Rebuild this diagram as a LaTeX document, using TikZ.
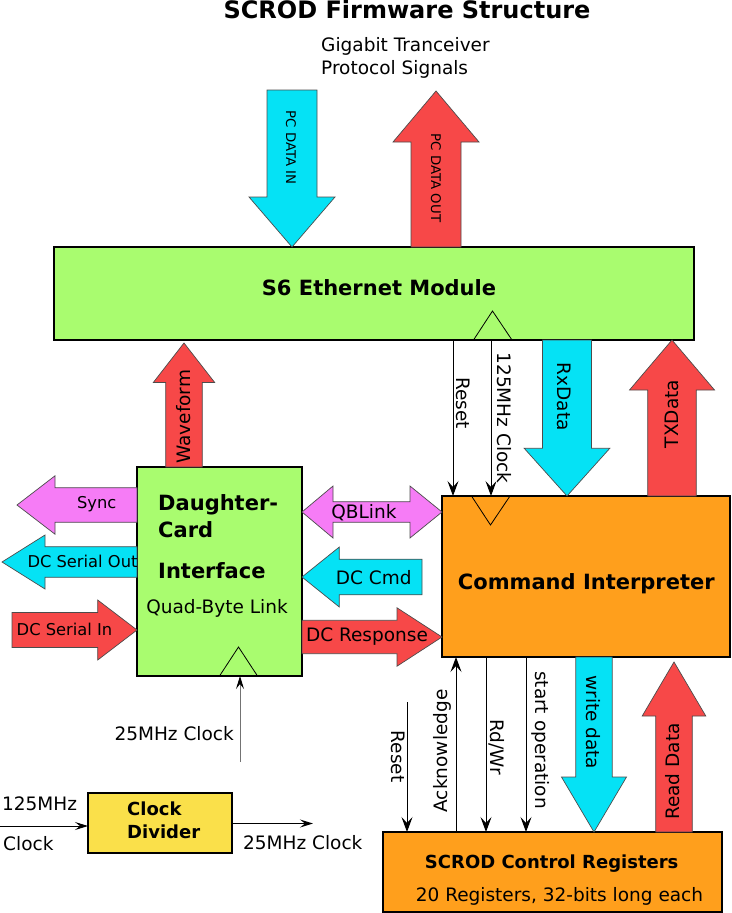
\documentclass[tikz,border=0pt]{standalone}
\usepackage{fontspec}
\setmainfont{DejaVu Sans}
\usetikzlibrary{calc,arrows.meta}

\definecolor{modgreen}{HTML}{A9FC6F}
\definecolor{cmdorange}{HTML}{FF9F1C}
\definecolor{datacyan}{HTML}{05E2F5}
\definecolor{datared}{HTML}{F74848}
\definecolor{linkpink}{HTML}{F67CF6}
\definecolor{divyellow}{HTML}{FAE04A}

% fat arrow: style, tail, tip, shaft half width, head half width, head length
\newcommand{\fatarrow}[6]{%
  \coordinate (fa-neck) at ($(#3)!#6!(#2)$);
  \draw[#1] ($(#2)!#4!90:(#3)$) -- ($(fa-neck)!#4!90:(#3)$) -- ($(fa-neck)!#5!90:(#3)$) -- (#3)
    -- ($(fa-neck)!#5!-90:(#3)$) -- ($(fa-neck)!#4!-90:(#3)$) -- ($(#2)!#4!-90:(#3)$) -- cycle;}

\begin{document}
\begin{tikzpicture}[x=1pt, y=-1pt,
    box/.style={draw=black, line width=1.3pt, inner sep=0, outer sep=0},
    fat/.style={draw=black!70, line width=0.7pt, line join=miter},
    clkmark/.style={draw=black, line width=0.8pt},
    txt/.style={inner sep=0, font=\fontsize{18.5}{21}\selectfont},
    smalltxt/.style={inner sep=0, font=\fontsize{16.3}{19}\selectfont},
    tinytxt/.style={inner sep=0, font=\fontsize{13.3}{15}\selectfont},
    boldtxt/.style={inner sep=0, font=\fontsize{21}{24}\selectfont\bfseries},
    regtxt/.style={inner sep=0, font=\fontsize{18}{21}\selectfont\bfseries},
    sig/.style={-{Stealth[length=15pt,width=11pt,inset=6pt]}, line width=1pt},
    clksig/.style={-{Stealth[length=13pt,width=8pt,inset=5pt,color=black]}, line width=1pt}
]
    \useasboundingbox (0,0) rectangle (731,913);

    % Blocks
    \node[box, fill=modgreen, minimum width=640pt, minimum height=93pt] (eth) at (374,293.5) {};
    \node[box, fill=modgreen, minimum width=165pt, minimum height=209pt] (dci) at (219.5,571.5) {};
    \node[box, fill=cmdorange, minimum width=288pt, minimum height=161pt] (cmd) at (586,576.5) {};
    \node[box, fill=cmdorange, minimum width=339pt, minimum height=80pt] (regs) at (552.5,872) {};
    \node[box, fill=divyellow, minimum width=144pt, minimum height=60pt] (div) at (160,823) {};

    % Clock inputs
    \draw[clkmark] (473.5,340) -- (492.5,311) -- (512,340);
    \draw[clkmark] (219.5,676) -- (238.5,647) -- (257.5,676);
    \draw[clkmark] (471.5,496) -- (490.5,525) -- (510,496);

    % Lanes
    \coordinate (pcinx) at (292,0);
    \coordinate (pcoutx) at (436,0);
    \coordinate (wavex) at (184,0);
    \coordinate (rstx) at (453,0);
    \coordinate (clkx) at (491,0);
    \coordinate (rxx) at (567,0);
    \coordinate (txx) at (672,0);
    \coordinate (rstbx) at (407,0);
    \coordinate (ackx) at (456,0);
    \coordinate (rwx) at (486,0);
    \coordinate (stx) at (526,0);
    \coordinate (wrx) at (594,0);
    \coordinate (rdx) at (674,0);
    \coordinate (cdx) at (240,0);
    \coordinate (qby) at (0,512);
    \coordinate (respy) at (0,637);

    % Free ends
    \coordinate (pcintop) at (292,90);
    \coordinate (pcouttop) at (436,91);
    \coordinate (wavetip) at (184,343);
    \coordinate (synctip) at (17,505);
    \coordinate (sotip) at (2,562);
    \coordinate (sitail) at (12,630);
    \coordinate (cmdtail) at (422,577);
    \coordinate (rdtip) at (674,662);
    \coordinate (rstbtop) at (407,702);
    \coordinate (cdbot) at (240,762);
    \coordinate (divin) at (0,826);
    \coordinate (divout) at (313,823.5);

    % Fat data arrows
    \fatarrow{fat, fill=datacyan}{pcintop}{eth.north -| pcinx}{25pt}{43pt}{50pt}
    \fatarrow{fat, fill=datared}{eth.north -| pcoutx}{pcouttop}{25pt}{43pt}{51pt}
    \fatarrow{fat, fill=datared}{dci.north -| wavex}{wavetip}{18.3pt}{30.7pt}{39.5pt}
    \fatarrow{fat, fill=linkpink}{dci.west |- synctip}{synctip}{17.3pt}{29.2pt}{38pt}
    \fatarrow{fat, fill=datacyan}{dci.west |- sotip}{sotip}{15.3pt}{27pt}{43pt}
    \fatarrow{fat, fill=datared}{sitail}{dci.west |- sitail}{17.5pt}{30pt}{39.3pt}
    \fatarrow{fat, fill=datacyan}{cmdtail}{dci.east |- cmdtail}{17.8pt}{30pt}{37.3pt}
    \fatarrow{fat, fill=datared}{dci.east |- respy}{cmd.west |- respy}{16.7pt}{29.2pt}{45pt}
    \fatarrow{fat, fill=datacyan}{eth.south -| rxx}{cmd.north -| rxx}{24.5pt}{42.8pt}{47.7pt}
    \fatarrow{fat, fill=datared}{cmd.north -| txx}{eth.south -| txx}{24.3pt}{42.5pt}{50pt}
    \fatarrow{fat, fill=datacyan}{cmd.south -| wrx}{regs.north -| wrx}{18.2pt}{32.5pt}{55pt}
    \fatarrow{fat, fill=datared}{regs.north -| rdx}{rdtip}{18.3pt}{31.8pt}{54pt}
    \draw[fat, fill=linkpink] (dci.east |- qby) -- ++(31,-26) -- ++(0,15.7)
        -- ($(cmd.west |- qby)+(-32,-10.3)$) -- ++(0,-15.7) -- (cmd.west |- qby)
        -- ++(-32,26) -- ++(0,-15.7) -- ($(dci.east |- qby)+(31,10.3)$) -- ++(0,15.7) -- cycle;

    % Control signals
    \draw[sig] (eth.south -| rstx) -- (cmd.north -| rstx);
    \draw[sig] (eth.south -| clkx) -- (cmd.north -| clkx);
    \draw[sig] (rstbtop) -- (regs.north -| rstbx);
    \draw[sig] (regs.north -| ackx) -- (cmd.south -| ackx);
    \draw[sig] (cmd.south -| rwx) -- (regs.north -| rwx);
    \draw[sig] (cmd.south -| stx) -- (regs.north -| stx);
    \draw[clksig, draw=black!55] (cdbot) -- (dci.south -| cdx);
    \draw[clksig] (divin) -- (divin -| div.west);
    \draw[clksig] (divout -| div.east) -- (divout);

    % Labels
    \node[anchor=base, inner sep=0, font=\fontsize{24}{28}\selectfont\bfseries] (title) at (407,18.3) {SCROD Firmware Structure};
    \node[txt, anchor=base west] (gig1) at (321,51) {Gigabit Tranceiver};
    \node[txt, anchor=base west] (gig2) at (321,74) {Protocol Signals};
    \node[tinytxt, rotate=-90] (pcinl) at (291,147.5) {PC DATA IN};
    \node[tinytxt, rotate=-90] (pcoutl) at (436,178) {PC DATA OUT};
    \node[boldtxt, anchor=base] (ethl) at (379,295) {S6 Ethernet Module};
    \node[txt, rotate=90] (wavel) at (184,416.7) {Waveform};
    \node[smalltxt, anchor=base] (syncl) at (96.7,508) {Sync};
    \node[smalltxt, anchor=base] (sol) at (82.5,567.3) {DC Serial Out};
    \node[smalltxt, anchor=base] (sil) at (64.5,635.7) {DC Serial In};
    \node[boldtxt, anchor=base west] (dcia) at (158,510.7) {Daughter-};
    \node[boldtxt, anchor=base west] (dcib) at (158,537.7) {Card};
    \node[boldtxt, anchor=base west] (dcic) at (158,578.3) {Interface};
    \node[txt, anchor=base] (dcid) at (217,613.3) {Quad-Byte Link};
    \node[txt, anchor=base] (qbl) at (364,518.3) {QBLink};
    \node[txt, anchor=base] (cmdl) at (373.7,584) {DC Cmd};
    \node[txt, anchor=base] (respl) at (367,641) {DC Response};
    \node[boldtxt, anchor=base] (cmdt) at (586.3,589.3) {Command Interpreter};
    \node[txt, rotate=-90] (rstl) at (463,403) {Reset};
    \node[txt, rotate=-90] (clkl) at (504,418) {125MHz Clock};
    \node[txt, rotate=-90] (rxl) at (564,396.7) {RxData};
    \node[txt, rotate=90] (txl) at (672,414) {TXData};
    \node[txt, rotate=-90] (rstbl) at (398,756.7) {Reset};
    \node[txt, rotate=90] (ackl) at (442.5,751) {Acknowledge};
    \node[txt, rotate=-90] (rwl) at (497,747) {Rd/Wr};
    \node[txt, rotate=-90] (stl) at (540.5,740) {start operation};
    \node[txt, rotate=-90] (wrl) at (593,722.3) {write data};
    \node[txt, rotate=90] (rdl) at (672.5,771.5) {Read Data};
    \node[regtxt, anchor=base] (regsa) at (551.7,868.3) {SCROD Control Registers};
    \node[txt, anchor=base] (regsb) at (559.5,901.7) {20 Registers, 32-bits long each};
    \node[regtxt, anchor=base west] (diva) at (127,815) {Clock};
    \node[regtxt, anchor=base west] (divb) at (127,838.3) {Divider};
    \node[txt, anchor=base east] (cdl) at (234,740) {25MHz Clock};
    \node[txt, anchor=base west] (cina) at (2,810) {125MHz};
    \node[txt, anchor=base west] (cinb) at (3,850) {Clock};
    \node[txt, anchor=base west] (coutl) at (243,849.3) {25MHz Clock};
\end{tikzpicture}
\end{document}
